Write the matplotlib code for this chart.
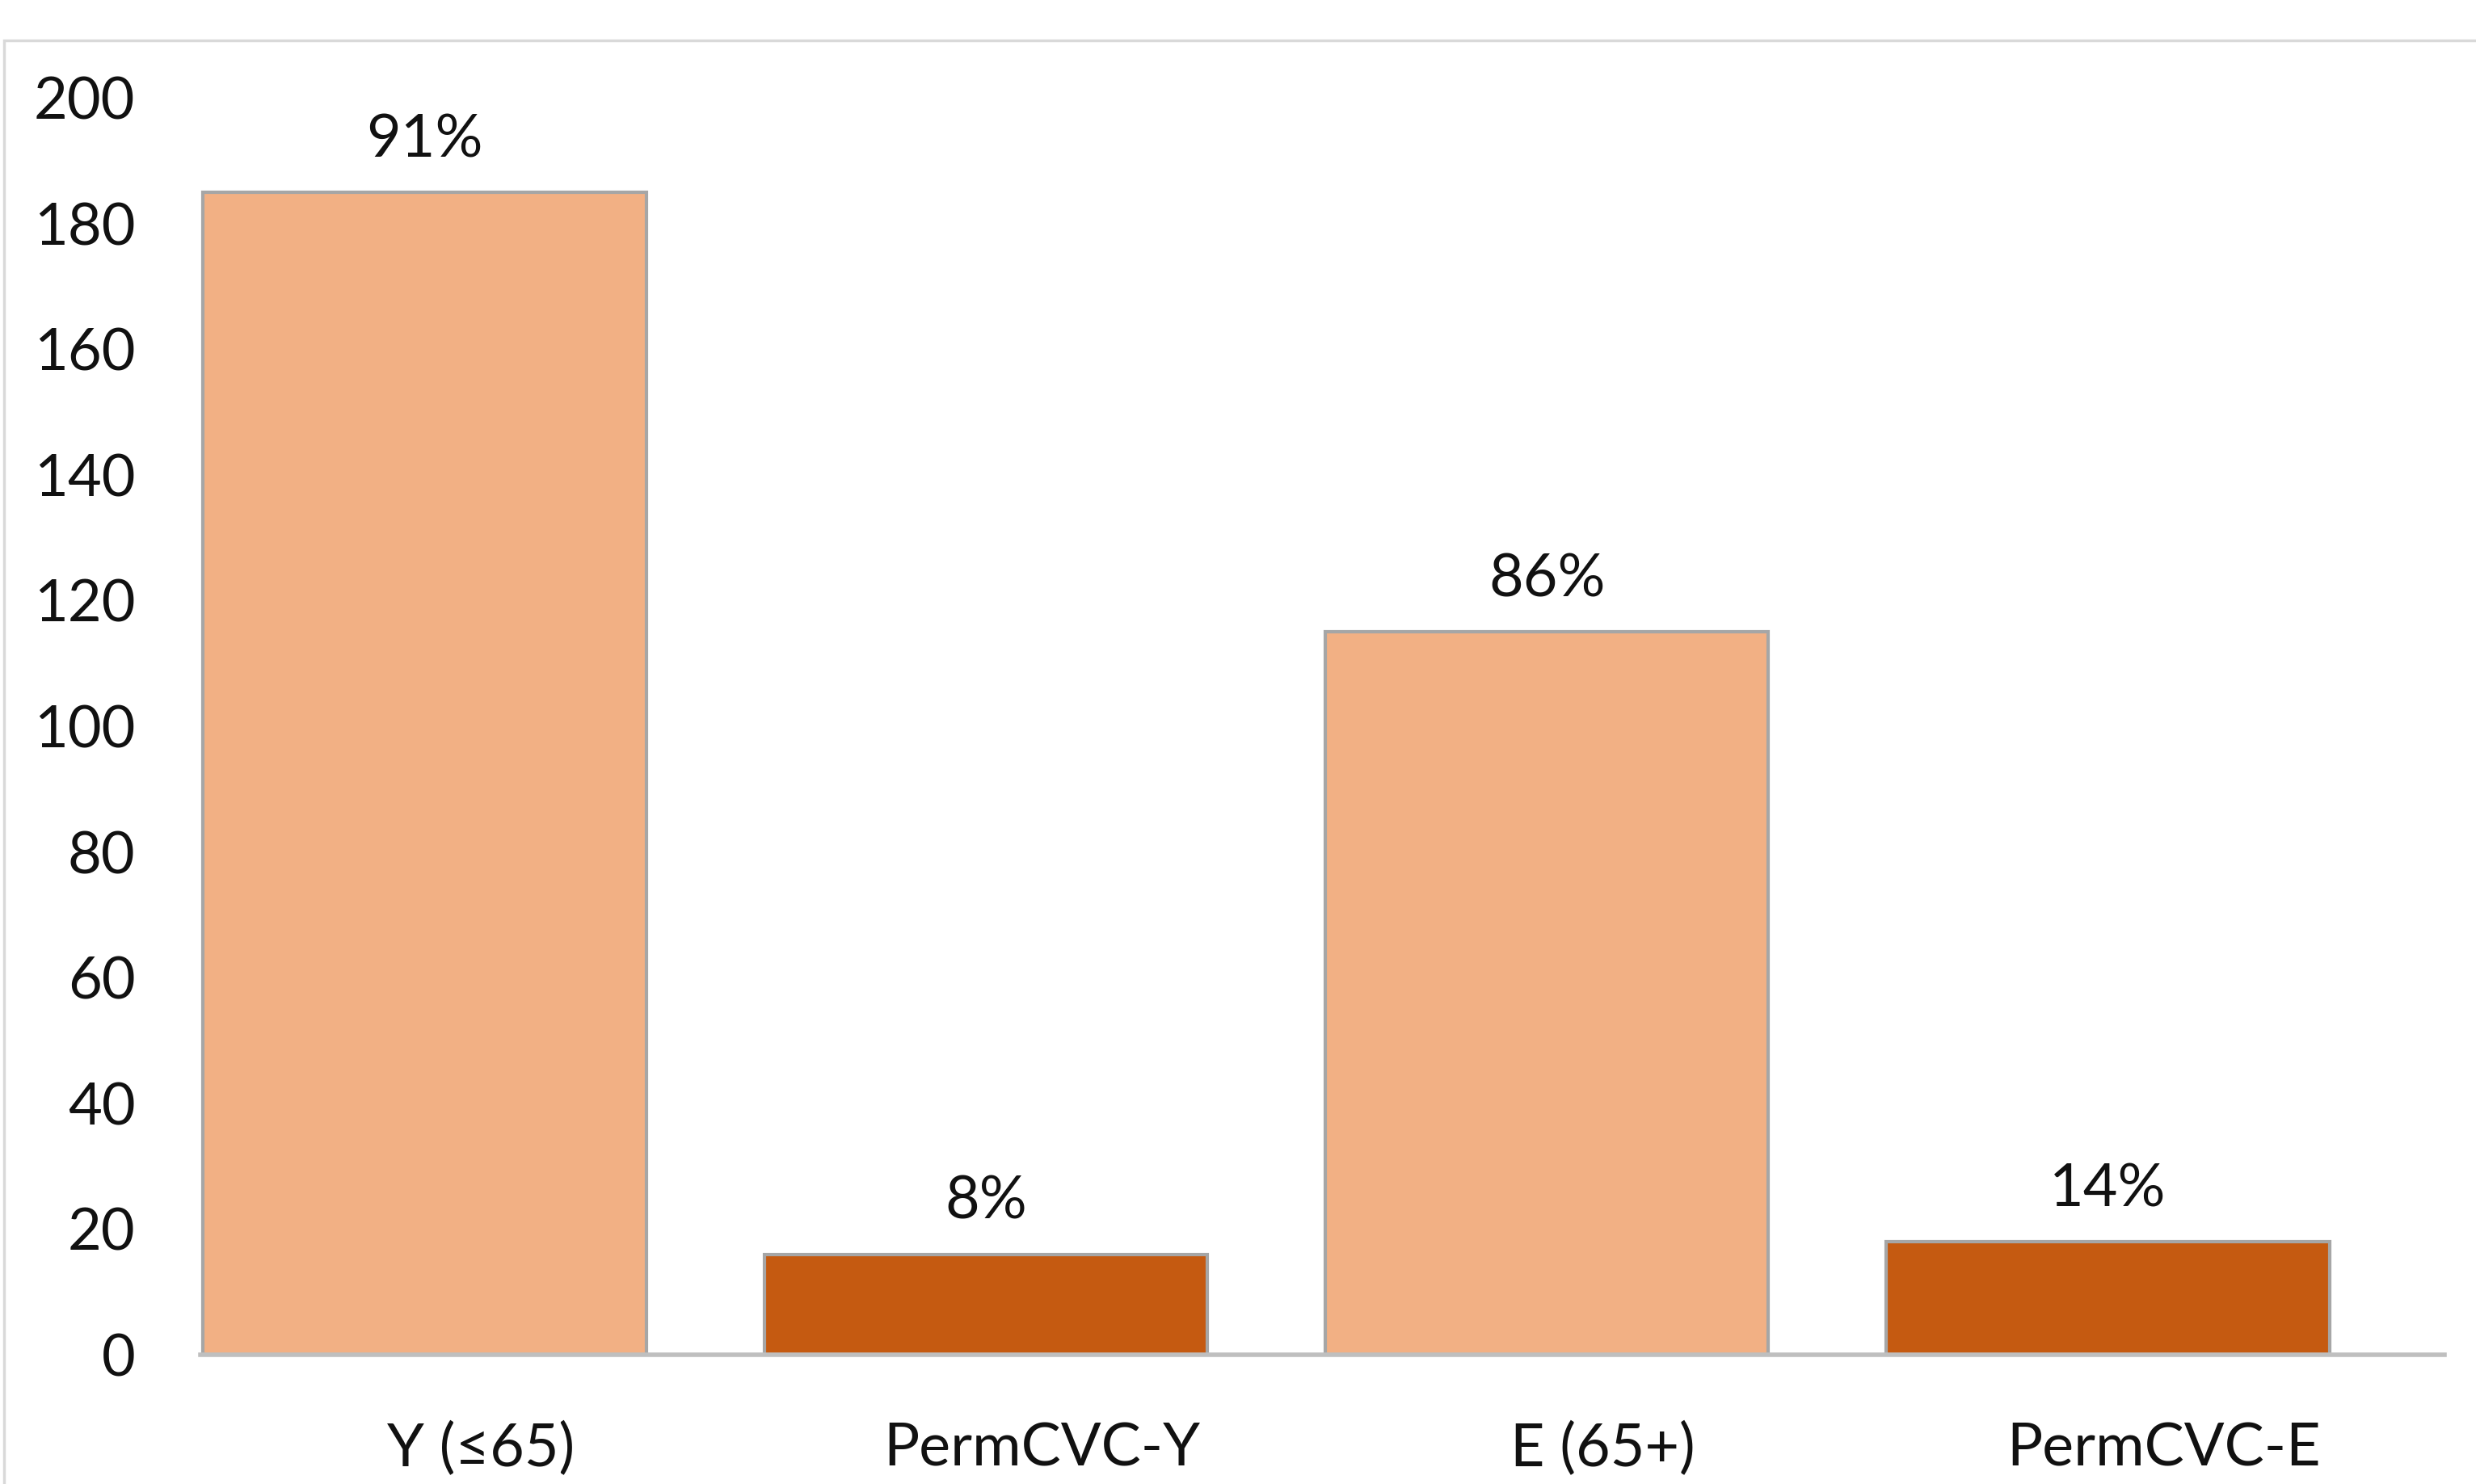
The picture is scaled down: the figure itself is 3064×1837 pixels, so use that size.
import numpy as np
import matplotlib
matplotlib.use("Agg")
import matplotlib.pyplot as plt
from matplotlib.patches import Rectangle

plt.rcParams['font.family'] = ['Lato', 'DejaVu Sans']

# Access type counts by age group
categories = ['Y (\u226465)', 'PermCVC-Y', 'E (65+)', 'PermCVC-E']
counts = [185, 16, 115, 18]
share_labels = ['91%', '8%', '86%', '14%']
bar_colors = ['#F2B084', '#C55A11', '#F2B084', '#C55A11']

fig = plt.figure(figsize=(30.64, 18.37), dpi=100)
ax = fig.add_axes([0.0809, 0.0871, 0.9064, 0.847])

# outer chart frame
fig.patches.append(Rectangle((0.0016, -0.05), 1.2, 1.023, transform=fig.transFigure,
                             fill=False, edgecolor='#D9D9D9', linewidth=2.5))

x = np.arange(len(categories))
bars = ax.bar(x - 0.1, counts, width=0.79, color=bar_colors,
              edgecolor='#A6A6A6', linewidth=3, zorder=2)

for rect, lab in zip(bars, share_labels):
    ax.annotate(lab, (rect.get_x() + rect.get_width() / 2, rect.get_height()),
                xytext=(0, 22), textcoords='offset points',
                ha='center', va='bottom', fontsize=53, color='#111111')

ax.set_xlim(-0.5, 3.5)
ax.set_ylim(0, 200)
ax.set_yticks(range(0, 201, 20))
ax.set_xticks(x)
ax.set_xticklabels(categories)

for side in ['top', 'right', 'left']:
    ax.spines[side].set_visible(False)
ax.spines['bottom'].set_color('#BFBFBF')
ax.spines['bottom'].set_linewidth(4)
ax.spines['bottom'].set_zorder(3)

ax.tick_params(axis='y', length=0, pad=58, labelsize=52, labelcolor='#111111')
ax.tick_params(axis='x', length=0, pad=60, labelsize=53, labelcolor='#111111')

fig.savefig('out.png', dpi=100)
